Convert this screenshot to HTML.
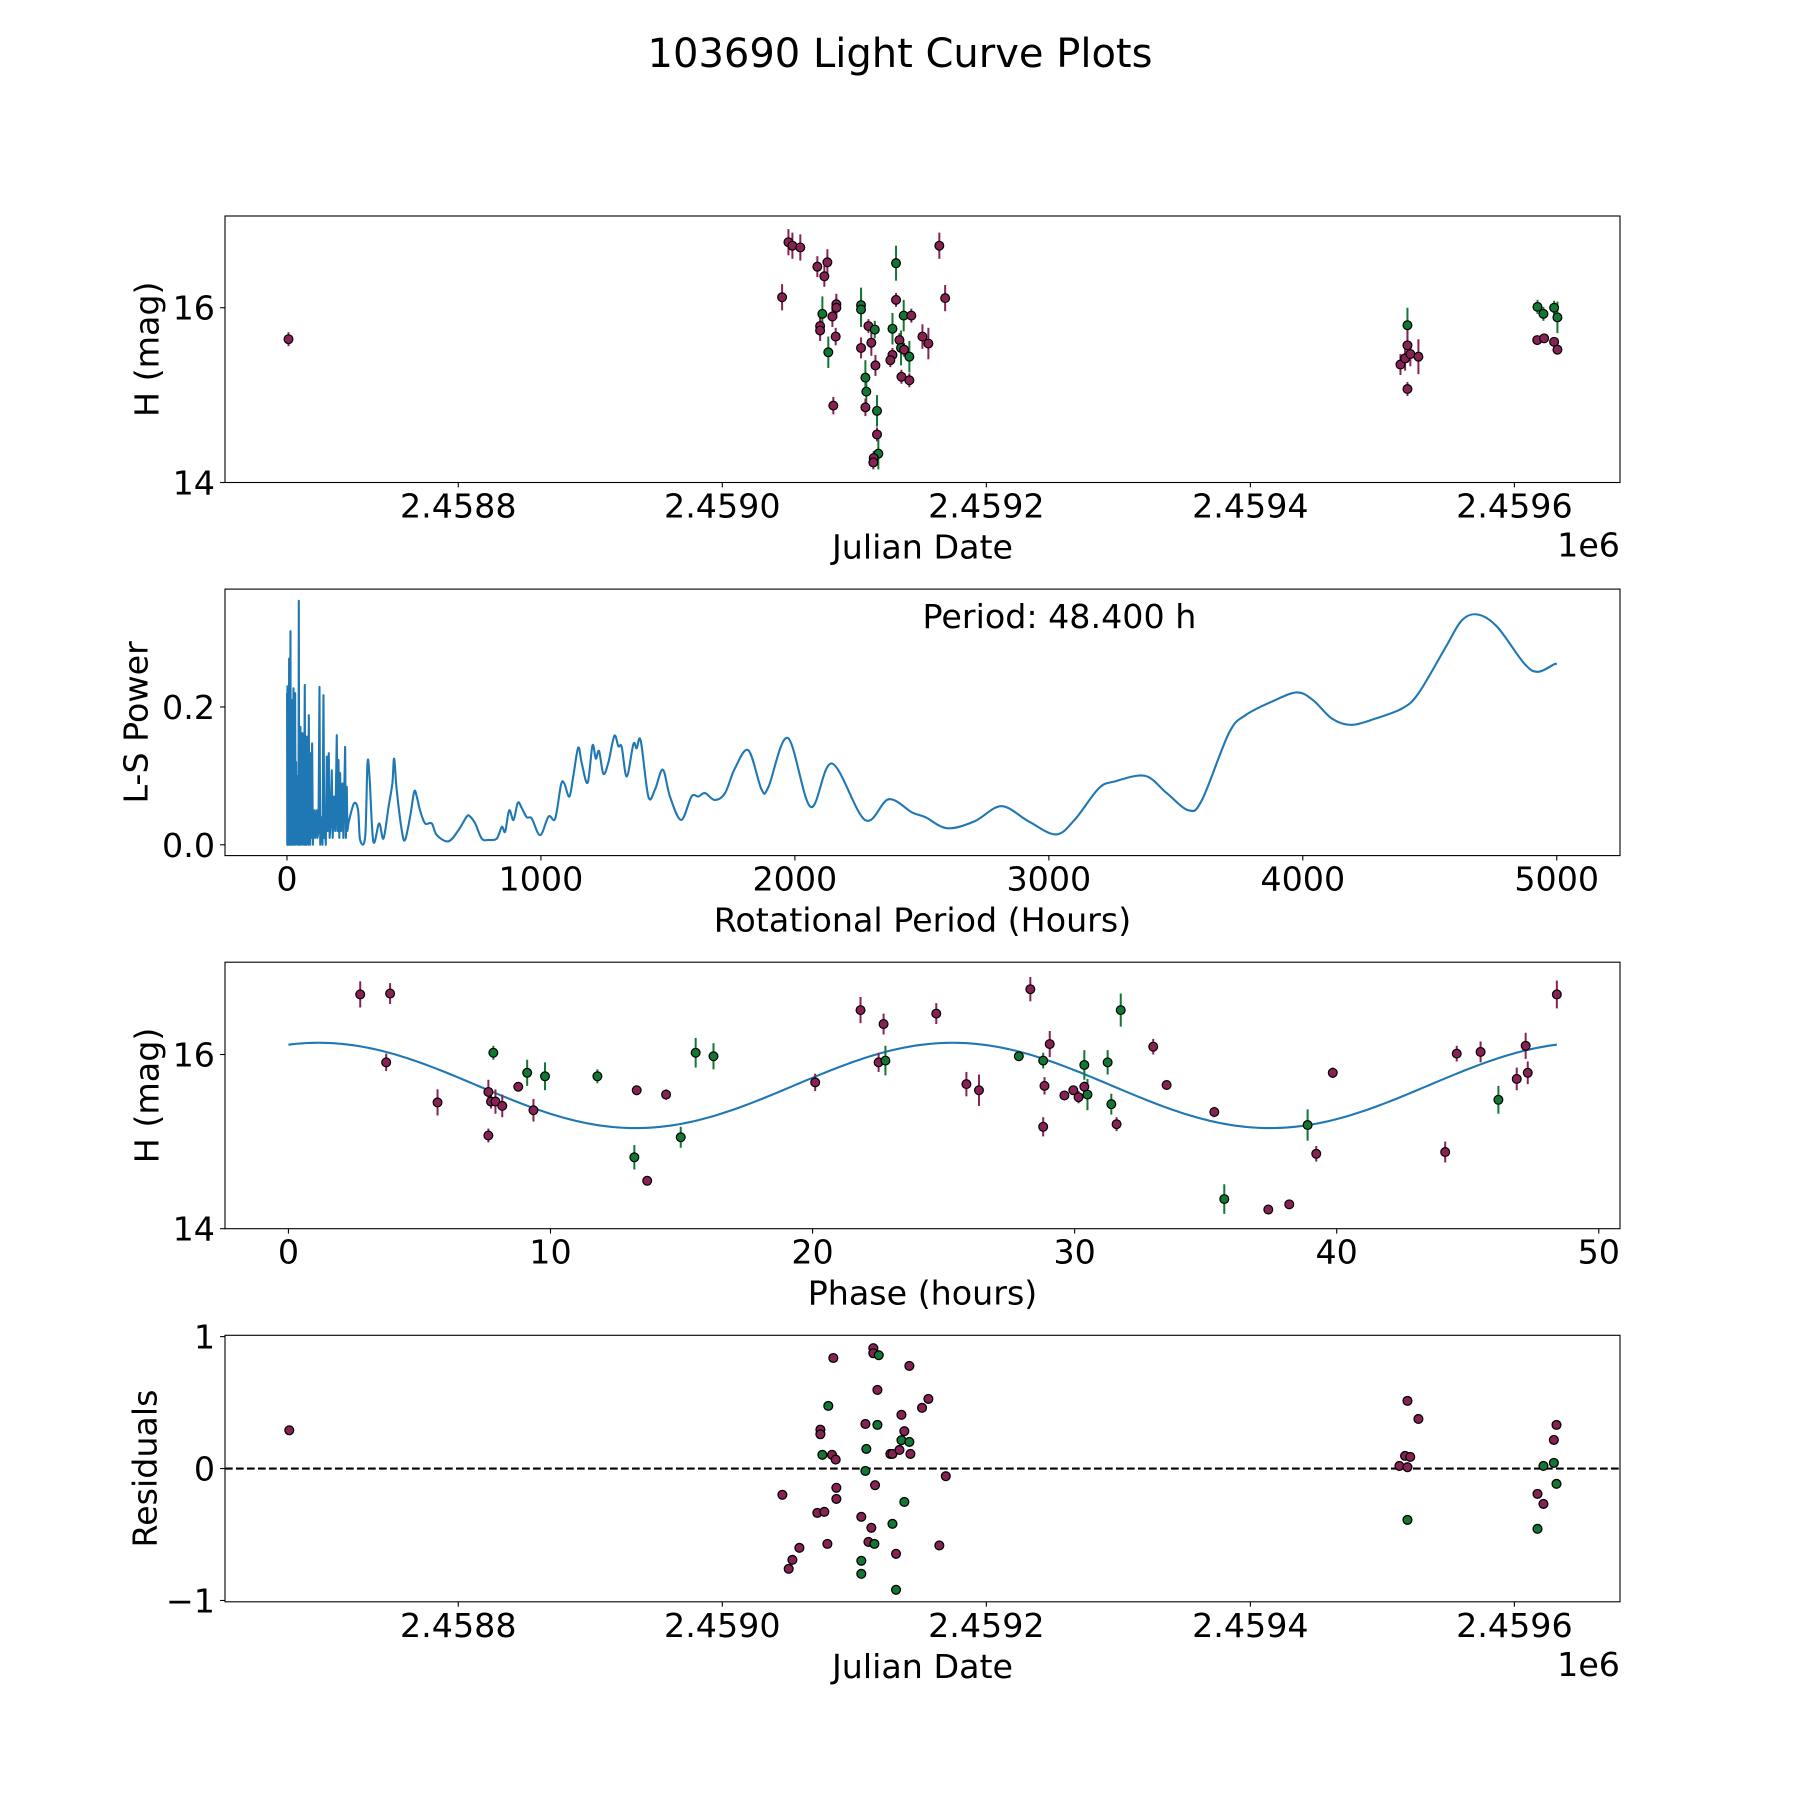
<!DOCTYPE html>
<html><head><meta charset="utf-8"><title>103690 Light Curve Plots</title>
<style>
html,body{margin:0;padding:0;background:#fff;}
svg{display:block;font-family:"DejaVu Sans","Liberation Sans",sans-serif;}
</style></head>
<body>
<svg id="fig" width="1800" height="1800" viewBox="0 0 1800 1800" xmlns="http://www.w3.org/2000/svg">
<rect x="0" y="0" width="1800" height="1800" fill="#fff"/>
<text x="900" y="67" text-anchor="middle" font-size="40" fill="#000">103690 Light Curve Plots</text>
</svg>
<script>
// ---------- Panel 1 data: light curve vs Julian Date ----------
const lcJD = [2458671.4,2459050.1,2459053.1,2459059.1,2459072.0,2459079.6,2459077.3,2459045.3,2459075.8,2459074.1,2459074.1,2459085.9,2459086.4,2459086.4,2459083.4,2459080.3,2459084.1,2459105.1,2459105.1,2459110.7,2459115.5,2459112.9,2459105.1,2459116.0,2459108.4,2459109.1,2459108.4,2459117.2,2459117.2,2459118.2,2459114.7,2459114.4,2459131.6,2459131.6,2459137.4,2459143.2,2459128.9,2459134.2,2459135.4,2459137.7,2459141.7,2459128.9,2459127.3,2459135.7,2459141.7,2459151.6,2459156.1,2459164.4,2459168.8,2459519.0,2459519.0,2459513.7,2459517.2,2459521.2,2459527.3,2459519.0,2459617.5,2459622.0,2459630.1,2459632.6,2459617.3,2459622.5,2459630.1,2459632.6];
const lcMag = [15.64,16.75,16.71,16.69,16.47,16.52,16.36,16.12,15.93,15.79,15.74,15.67,16.04,16.00,15.90,15.49,14.88,16.03,15.98,15.79,15.75,15.60,15.54,15.34,15.20,15.04,14.86,14.82,14.55,14.33,14.28,14.23,16.51,16.09,15.91,15.91,15.76,15.63,15.54,15.52,15.44,15.46,15.40,15.21,15.17,15.67,15.59,16.71,16.11,15.80,15.57,15.35,15.42,15.47,15.44,15.07,16.01,15.93,16.00,15.89,15.63,15.65,15.61,15.52];
const lcErr = [0.08,0.15,0.15,0.15,0.12,0.15,0.12,0.15,0.2,0.12,0.12,0.1,0.12,0.12,0.12,0.18,0.1,0.2,0.2,0.08,0.1,0.15,0.12,0.12,0.2,0.2,0.1,0.18,0.08,0.18,0.08,0.08,0.2,0.08,0.18,0.08,0.18,0.08,0.2,0.08,0.18,0.08,0.08,0.08,0.08,0.14,0.18,0.15,0.15,0.2,0.2,0.12,0.14,0.14,0.2,0.08,0.08,0.08,0.08,0.18,0.05,0.05,0.05,0.05];
const lcBand = ['m','m','m','m','m','m','m','m','g','m','m','m','m','m','m','g','m','g','g','m','g','m','m','m','g','g','m','g','m','g','m','m','g','m','g','m','g','m','g','m','g','m','m','m','m','m','m','m','m','g','m','m','m','m','m','m','g','g','g','g','m','m','m','m'];

// ---------- Panel 2 data: Lomb-Scargle periodogram ----------
const lsPeriod = [0.5,1.2,2,3,4,5,6,7,8.5,9.5,11,12,13.8,15,16.5,17.5,19,20.5,22,23,25.6,27,29,30.5,32.2,34,36,37.5,40,42,44,45.5,46.6,48,50,51.5,53.1,55,57,59,61,63,65,67,70.2,72,74,76,78.1,80,82,84,86,88,90,91,92.5,95,97,99.1,102,105,108.3,111,114,117.4,120,124,128,131,134,137.1,140,143.7,147,150,153,156.8,160,164.7,168,172,176.5,180,185.7,190,196.2,199,202.8,206,209.3,213,218.5,222,229,232,235.5,238,242,264,280,288,308,317,325,340,363,380,400,415,422,432,452,465,485,501,511,524,544,570,590,636,675,708,721,741,767,793,826,846,859,875,892,909,925,944,964,997,1030,1056,1079,1092,1112,1128,1147,1161,1184,1203,1216,1229,1246,1266,1289,1305,1318,1338,1364,1377,1393,1423,1449,1480,1508,1552,1593,1620,1646,1685,1725,1764,1817,1869,1896,1972,2062,2146,2276,2369,2461,2514,2600,2707,2813,2920,3027,3101,3197,3261,3379,3464,3550,3603,3709,3774,3880,3976,4040,4115,4190,4285,4392,4456,4563,4627,4691,4766,4872,4926,4990,5000];
const lsPower = [0.22,0,0.23,0.01,0.2,0,0.16,0.02,0.27,0,0.22,0.05,0.31,0,0.18,0.02,0.21,0,0.19,0.03,0.227,0,0.15,0.02,0.22,0,0.12,0.01,0.08,0,0.1,0.02,0.354,0,0.06,0,0.171,0.01,0.07,0,0.162,0.02,0.05,0,0.232,0,0.04,0,0.157,0.01,0.05,0,0.188,0.01,0.04,0,0.133,0.01,0.03,0.147,0,0.04,0.05,0.01,0.03,0.05,0.01,0.02,0.229,0,0.04,0.036,0,0.217,0.01,0.03,0,0.128,0.02,0.133,0.01,0.03,0.108,0.01,0.07,0.02,0.159,0.02,0.123,0.01,0.104,0.02,0.089,0.01,0.142,0.01,0.084,0.02,0.031,0.060,0.050,0.007,0.012,0.118,0.099,0.005,0.031,0.009,0.055,0.089,0.125,0.080,0.021,0.007,0.041,0.077,0.070,0.050,0.031,0.031,0.014,0.005,0.021,0.041,0.041,0.031,0.009,0.007,0.009,0.026,0.019,0.050,0.036,0.061,0.053,0.040,0.038,0.014,0.041,0.038,0.087,0.089,0.070,0.101,0.141,0.118,0.090,0.144,0.125,0.136,0.103,0.120,0.158,0.143,0.142,0.099,0.146,0.140,0.151,0.070,0.080,0.109,0.070,0.036,0.070,0.070,0.075,0.065,0.075,0.111,0.137,0.080,0.084,0.155,0.055,0.118,0.036,0.066,0.047,0.040,0.024,0.034,0.056,0.034,0.015,0.036,0.082,0.092,0.100,0.075,0.050,0.065,0.162,0.188,0.208,0.221,0.210,0.183,0.174,0.183,0.198,0.220,0.287,0.326,0.334,0.316,0.263,0.251,0.262,0.262];
const bestPeriodLabel = "Period: 48.400 h";

// ---------- Panel 3 data: phased light curve ----------
const phHours = [2.74,3.88,3.73,5.69,7.63,7.73,7.90,8.16,7.63,7.82,8.77,9.11,9.79,9.35,11.79,13.29,13.20,13.69,14.41,14.97,15.54,16.22,20.1,21.83,22.71,22.52,22.78,24.72,28.31,27.87,28.80,29.05,25.87,26.35,28.85,28.80,29.61,29.95,30.15,30.37,30.37,30.49,31.26,31.40,31.60,31.76,33.0,33.51,35.33,35.71,37.39,38.19,38.89,39.22,39.85,44.14,44.58,45.49,46.17,46.87,47.21,47.29,48.40];
const phMag = [16.69,16.70,15.91,15.45,15.57,15.46,15.46,15.41,15.07,16.02,15.63,15.79,15.75,15.36,15.75,15.59,14.82,14.55,15.54,15.05,16.02,15.98,15.68,16.51,16.35,15.91,15.93,16.47,16.75,15.98,15.93,16.12,15.66,15.59,15.64,15.17,15.53,15.59,15.51,15.63,15.88,15.54,15.91,15.43,15.20,16.51,16.09,15.65,15.34,14.34,14.22,14.28,15.19,14.86,15.79,14.88,16.01,16.03,15.48,15.72,16.10,15.79,16.69];
const phErr = [0.15,0.12,0.1,0.15,0.14,0.08,0.14,0.13,0.08,0.08,0.05,0.15,0.16,0.13,0.08,0.05,0.14,0.05,0.06,0.12,0.17,0.15,0.1,0.15,0.12,0.11,0.17,0.12,0.14,0.05,0.09,0.15,0.14,0.18,0.1,0.11,0.05,0.05,0.07,0.06,0.17,0.18,0.14,0.12,0.08,0.19,0.09,0.05,0.06,0.17,0.05,0.05,0.18,0.09,0.06,0.12,0.09,0.12,0.16,0.13,0.15,0.13,0.16];
const phBand = ['m','m','m','m','m','m','m','m','m','g','m','g','g','m','g','m','g','m','m','g','g','g','m','m','m','m','g','m','m','g','g','m','m','m','m','m','m','m','m','m','g','g','g','g','m','g','m','m','m','g','m','m','g','m','m','m','m','m','g','m','m','m','m'];
const fitMean = 15.645;
const fitAmp = 0.49;
const fitCurvePeriod = 24.2;
const fitPeakPhase = 1.15;
const fitRange = [0, 48.4];

// ---------- Panel 4 data: residuals ----------
const resJD = [2458672.0,2459114.4,2459114.4,2459118.5,2459084.1,2459141.7,2459117.5,2459156.1,2459151.3,2459080.3,2459135.7,2459108.4,2459117.5,2459074.3,2459074.3,2459137.9,2459135.7,2459141.7,2459109.1,2459075.8,2459083.1,2459085.9,2459127.3,2459128.9,2459134.2,2459142.5,2459108.4,2459169.3,2459115.7,2459045.5,2459086.4,2459086.4,2459137.9,2459072.0,2459077.3,2459105.3,2459112.9,2459128.9,2459058.4,2459079.6,2459110.7,2459115.2,2459164.4,2459131.6,2459053.1,2459050.3,2459105.3,2459105.3,2459131.6,2459519.0,2459527.3,2459517.2,2459521.1,2459512.9,2459519.0,2459519.0,2459631.9,2459629.9,2459622.0,2459629.9,2459631.9,2459617.5,2459622.0,2459617.5];
const resVal = [0.29,0.912,0.874,0.859,0.838,0.778,0.596,0.528,0.460,0.475,0.407,0.338,0.331,0.295,0.260,0.283,0.215,0.202,0.149,0.104,0.104,0.068,0.111,0.111,0.141,0.111,-0.018,-0.058,-0.126,-0.199,-0.146,-0.230,-0.253,-0.336,-0.328,-0.366,-0.449,-0.419,-0.601,-0.571,-0.556,-0.571,-0.583,-0.646,-0.692,-0.760,-0.699,-0.798,-0.919,0.513,0.376,0.096,0.088,0.020,0.010,-0.389,0.331,0.217,0.020,0.043,-0.116,-0.192,-0.268,-0.457];
const resBand = ['m','m','m','g','m','m','m','m','m','g','m','m','g','m','m','m','g','g','g','g','m','m','m','m','m','m','g','m','m','m','m','m','g','m','m','m','m','g','m','m','m','g','m','m','m','m','g','g','g','m','m','m','m','m','m','g','m','m','g','g','g','m','m','g'];

// ---------- Tick labels ----------
const jdTicks = [2458800,2459000,2459200,2459400,2459600];
const jdTickLabels = ["2.4588","2.4590","2.4592","2.4594","2.4596"];
const magTicks = [14,16];
const magTickLabels = ["14","16"];
const perTicks = [0,1000,2000,3000,4000,5000];
const perTickLabels = ["0","1000","2000","3000","4000","5000"];
const powTicks = [0.0,0.2];
const powTickLabels = ["0.0","0.2"];
const phTicks = [0,10,20,30,40,50];
const phTickLabels = ["0","10","20","30","40","50"];
const resTicks = [-1,0,1];
const resTickLabels = ["\u22121","0","1"];

const NS = "http://www.w3.org/2000/svg";
const svg = document.getElementById('fig');
const COL = {m:'#882255', g:'#117733'};

function mk(tag, attrs, parent){
  const e = document.createElementNS(NS, tag);
  for (const k in attrs) e.setAttribute(k, attrs[k]);
  (parent||svg).appendChild(e);
  return e;
}
function makeAxes(name, top, xlim, ylim){
  const ax = {l:225, r:1620, t:top, b:top+266.5, xlim:xlim, ylim:ylim};
  ax.sx = v => ax.l + (v-xlim[0])/(xlim[1]-xlim[0])*(ax.r-ax.l);
  ax.sy = v => ax.b - (v-ylim[0])/(ylim[1]-ylim[0])*(ax.b-ax.t);
  const g = mk('g', {});
  
  
  ax.g = g;
  const cp = mk('clipPath', {id:'clip-'+name}, g);
  mk('rect', {x:ax.l, y:ax.t, width:ax.r-ax.l, height:ax.b-ax.t}, cp);
  ax.plot = mk('g', {'clip-path':'url(#clip-'+name+')'}, g);
  
  
  return ax;
}
function finishAxes(ax, xt, xtl, yt, ytl, xlabel, ylabel, ylabelX, offsetText){
  const g = ax.g;
  const frame = mk('rect', {x:ax.l, y:ax.t, width:ax.r-ax.l, height:ax.b-ax.t, fill:'none', stroke:'#000', 'stroke-width':1.1}, g);
  
  
  xt.forEach((v,i)=>{
    const x = ax.sx(v);
    mk('line', {x1:x, x2:x, y1:ax.b, y2:ax.b+4.9, stroke:'#000', 'stroke-width':1.1}, g);
    const t = mk('text', {x:x, y:ax.b+35, 'text-anchor':'middle', 'font-size':33.3}, g);
    t.textContent = xtl[i];
    
    
  });
  yt.forEach((v,i)=>{
    const y = ax.sy(v);
    mk('line', {x1:ax.l-4.9, x2:ax.l, y1:y, y2:y, stroke:'#000', 'stroke-width':1.1}, g);
    const t = mk('text', {x:ax.l-10, y:y+12, 'text-anchor':'end', 'font-size':33.3}, g);
    t.textContent = ytl[i];
    
    
  });
  const xl = mk('text', {x:(ax.l+ax.r)/2, y:ax.b+76, 'text-anchor':'middle', 'font-size':33.3}, g);
  xl.textContent = xlabel;
  
  
  const cy = (ax.t+ax.b)/2;
  const yl = mk('text', {x:ylabelX, y:cy, 'text-anchor':'middle', 'font-size':33.3, transform:'rotate(-90 '+ylabelX+' '+cy+')', 'dominant-baseline':'central'}, g);
  yl.textContent = ylabel;
  
  
  if (offsetText){
    const o = mk('text', {x:ax.r, y:ax.b+74, 'text-anchor':'end', 'font-size':33.3}, g);
    o.textContent = offsetText;
    
    
  }
}
function errPoints(ax, xs, ys, es, bands, prefix){
  xs.forEach((xv,i)=>{
    const x = ax.sx(xv);
    const l = mk('line', {x1:x, x2:x, y1:ax.sy(ys[i]-es[i]), y2:ax.sy(ys[i]+es[i]), stroke:COL[bands[i]], 'stroke-width':2}, ax.plot);
    
    
  });
  xs.forEach((xv,i)=>{
    const c = mk('circle', {cx:ax.sx(xv), cy:ax.sy(ys[i]), r:4.4, fill:COL[bands[i]], stroke:'#000', 'stroke-width':1.2}, ax.plot);
    
    
  });
}

// Panel 1
const ax1 = makeAxes('light-curve-panel', 216, [2458623.3, 2459680], [14.0, 17.05]);
errPoints(ax1, lcJD, lcMag, lcErr, lcBand, 'light-curve');
finishAxes(ax1, jdTicks, jdTickLabels, magTicks, magTickLabels, 'Julian Date', 'H (mag)', 147, '1e6');

// Panel 2
const ax2 = makeAxes('periodogram-panel', 589.1, [-244, 5249], [-0.0157, 0.371]);
{
  const P = lsPeriod.map((p,i)=>[ax2.sx(p), ax2.sy(lsPower[i])]);
  let d = 'M'+P[0][0].toFixed(2)+' '+P[0][1].toFixed(2);
  for (let i=1;i<P.length;i++){
    if (lsPeriod[i] <= 242){
      d += ' L'+P[i][0].toFixed(2)+' '+P[i][1].toFixed(2);
    } else {
      const p0 = P[i-2]||P[i-1], p1 = P[i-1], p2 = P[i], p3 = P[i+1]||P[i];
      const c1x = p1[0]+(p2[0]-p0[0])/6, c1y = p1[1]+(p2[1]-p0[1])/6;
      const c2x = p2[0]-(p3[0]-p1[0])/6, c2y = p2[1]-(p3[1]-p1[1])/6;
      d += ' C'+c1x.toFixed(2)+' '+c1y.toFixed(2)+' '+c2x.toFixed(2)+' '+c2y.toFixed(2)+' '+p2[0].toFixed(2)+' '+p2[1].toFixed(2);
    }
  }
  const p = mk('path', {d:d, fill:'none', stroke:'#1f77b4', 'stroke-width':2.1, 'stroke-linejoin':'round'}, ax2.plot);
  
  
  const t = mk('text', {x:(ax2.l+ax2.r)/2, y:628, 'font-size':33.3}, ax2.g);
  t.textContent = bestPeriodLabel;
  
  
}
finishAxes(ax2, perTicks, perTickLabels, powTicks, powTickLabels, 'Rotational Period (Hours)', 'L-S Power', 136, null);

// Panel 3
const ax3 = makeAxes('phased-panel', 962.2, [-2.42, 50.81], [14.0, 17.06]);
{
  const pts = [];
  const N = 300;
  for (let k=0;k<=N;k++){
    const ph = fitRange[0] + (fitRange[1]-fitRange[0])*k/N;
    const m = fitMean + fitAmp*Math.cos(2*Math.PI*(ph-fitPeakPhase)/fitCurvePeriod);
    pts.push((k?'L':'M')+ax3.sx(ph).toFixed(2)+' '+ax3.sy(m).toFixed(2));
  }
  const p = mk('path', {d:pts.join(' '), fill:'none', stroke:'#1f77b4', 'stroke-width':2.1}, ax3.plot);
  
  
}
errPoints(ax3, phHours, phMag, phErr, phBand, 'phased');
finishAxes(ax3, phTicks, phTickLabels, magTicks, magTickLabels, 'Phase (hours)', 'H (mag)', 147, null);

// Panel 4
const ax4 = makeAxes('residuals-panel', 1335.3, [2458623.3, 2459680], [-1.01, 1.01]);
{
  const y0 = ax4.sy(0);
  const z = mk('line', {x1:ax4.l, x2:ax4.r, y1:y0, y2:y0, stroke:'#000', 'stroke-width':2.1, 'stroke-dasharray':'7.7 3.3'}, ax4.plot);
  
  
  resJD.forEach((jd,i)=>{
    const c = mk('circle', {cx:ax4.sx(jd), cy:ax4.sy(resVal[i]), r:4.4, fill:COL[resBand[i]], stroke:'#000', 'stroke-width':1.3}, ax4.plot);
    
    
  });
}
finishAxes(ax4, jdTicks, jdTickLabels, resTicks, resTickLabels, 'Julian Date', 'Residuals', 145, '1e6');
</script>
</body></html>
